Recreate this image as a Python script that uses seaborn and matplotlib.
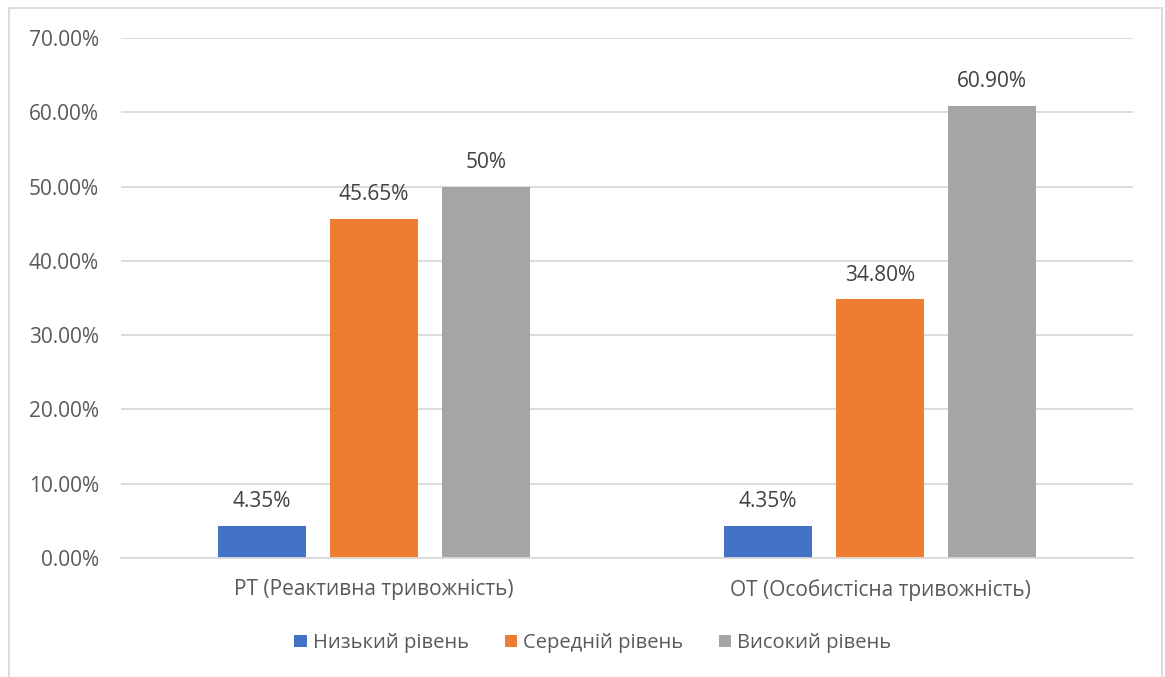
import matplotlib
matplotlib.use("Agg")
import matplotlib.pyplot as plt
import seaborn as sns
import pandas as pd
from matplotlib.patches import Rectangle
from matplotlib.ticker import FuncFormatter

categories = ["РТ (Реактивна тривожність)", "ОТ (Особистісна тривожність)"]
levels = ["Низький рівень", "Середній рівень", "Високий рівень"]
low = [4.35, 4.35]
mid = [45.65, 34.80]
high = [50.0, 60.90]
bar_labels = [["4.35%", "4.35%"], ["45.65%", "34.80%"], ["50%", "60.90%"]]
colors = ["#4472C4", "#ED7D31", "#A5A5A5"]

rows = []
for lvl, vals in zip(levels, [low, mid, high]):
    for c, v in zip(categories, vals):
        rows.append({"cat": c, "level": lvl, "value": v})
df = pd.DataFrame(rows)

sns.set_theme(style="white")
plt.rcParams["font.family"] = ["Open Sans", "DejaVu Sans"]
text_color = "#595959"

fig = plt.figure(figsize=(11.65, 6.77), dpi=100)
ax = fig.add_axes([121/1165, 1-558/677, (1133-121)/1165, (558-38)/677])

sns.barplot(data=df, x="cat", y="value", hue="level", hue_order=levels,
            order=categories, palette=colors, width=0.664, gap=0.214,
            saturation=1, ax=ax, legend=True, linewidth=0)

ax.set_ylim(0, 70)
ax.set_yticks(range(0, 71, 10))
ax.yaxis.set_major_formatter(FuncFormatter(lambda v, p: f"{v:.2f}%"))
ax.grid(axis="y", color="#D9D9D9", linewidth=1.3)
ax.set_axisbelow(True)
for s in ["top", "right", "left"]:
    ax.spines[s].set_visible(False)
ax.spines["bottom"].set_color("#D9D9D9")
ax.spines["bottom"].set_linewidth(1.3)
ax.tick_params(axis="y", length=0, pad=16, labelsize=15, labelcolor=text_color)
ax.tick_params(axis="x", length=0, pad=15, labelsize=15, labelcolor=text_color)
ax.set_xlabel("")
ax.set_ylabel("")

for cont, labs in zip(ax.containers, bar_labels):
    ax.bar_label(cont, labels=labs, padding=10, fontsize=15, color="#404040")

handles, labels_ = ax.get_legend_handles_labels()
ax.get_legend().remove()
fig.legend(handles, labels_, loc="center", bbox_to_anchor=(593/1165, 1 - 643/677),
           ncol=3, frameon=False, fontsize=14.5, handlelength=0.6, handleheight=0.6,
           handletextpad=0.3, columnspacing=1.8, labelcolor=text_color)

fig.patches.append(Rectangle((9/1165, -0.05), (1162-9)/1165, 1.05 - 8/677,
                             transform=fig.transFigure, fill=False,
                             edgecolor="#D9D9D9", linewidth=1.3))

fig.savefig("out.png", dpi=100, facecolor="white")
